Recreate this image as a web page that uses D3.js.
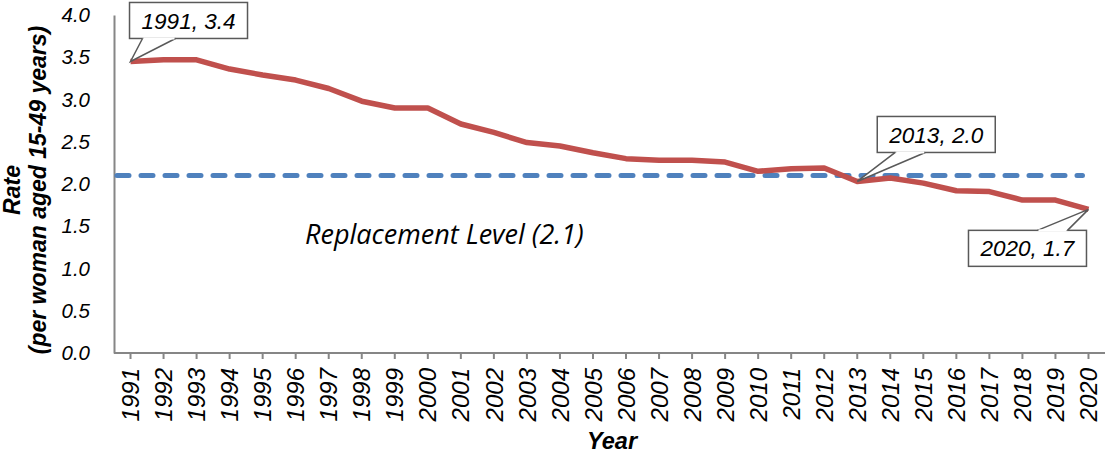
<!DOCTYPE html>
<html>
<head>
<meta charset="utf-8">
<script src="https://cdn.jsdelivr.net/npm/d3@7"></script>
<style>
  body { margin: 0; background: #fff; }
  text { font-family: "Liberation Sans", Arial, sans-serif; }
</style>
</head>
<body>
<script>
// Chart data
var years = ["1991","1992","1993","1994","1995","1996","1997","1998","1999","2000",
  "2001","2002","2003","2004","2005","2006","2007","2008","2009","2010",
  "2011","2012","2013","2014","2015","2016","2017","2018","2019","2020"];
var rates = [3.45, 3.47, 3.47, 3.36, 3.29, 3.23, 3.13, 2.98, 2.90, 2.90,
  2.71, 2.61, 2.49, 2.45, 2.37, 2.30, 2.28, 2.28, 2.26, 2.15,
  2.18, 2.19, 2.03, 2.07, 2.01, 1.92, 1.91, 1.81, 1.81, 1.70];
var replacementLevel = 2.1;
var yTicks = [0, 0.5, 1, 1.5, 2, 2.5, 3, 3.5, 4];
var calloutYears = ["1991", "2013", "2020"];
var calloutLabels = ["1991, 3.4", "2013, 2.0", "2020, 1.7"];

var svgWidth = 1105;
var svgHeight = 456;
var margin = { top: 15, right: 0, bottom: 103, left: 114 };
var chartWidth = svgWidth - margin.left - margin.right;
var chartHeight = svgHeight - margin.top - margin.bottom;

var svg = d3.select("body")
  .append("svg")
  .attr("width", svgWidth)
  .attr("height", svgHeight);

var chartGroup = svg.append("g")
  .attr("transform", `translate(${margin.left}, ${margin.top})`);

var xScale = d3.scaleBand()
  .domain(years)
  .range([0, chartWidth]);

var yScale = d3.scaleLinear()
  .domain([0, 4])
  .range([chartHeight, 0]);

var xc = d => xScale(d) + xScale.bandwidth() / 2;

// y axis
var yAxis = d3.axisLeft(yScale)
  .tickValues(yTicks)
  .tickFormat(d3.format(".1f"))
  .tickSize(0)
  .tickPadding(24);
var yg = chartGroup.append("g").call(yAxis);
yg.select(".domain").attr("stroke", "#868686").attr("stroke-width", 2);
yg.selectAll("text")
  .attr("font-size", 20.5)
  .attr("font-style", "italic")
  .attr("fill", "#000");

// x axis
var xAxis = d3.axisBottom(xScale).tickSize(6).tickSizeOuter(0);
var xg = chartGroup.append("g")
  .attr("transform", `translate(0, ${chartHeight})`)
  .call(xAxis);
xg.select(".domain").attr("stroke", "#868686").attr("stroke-width", 2)
  .attr("d", `M0,0H${chartWidth}`);
xg.selectAll(".tick line").attr("stroke", "#868686").attr("stroke-width", 2);
xg.selectAll("text")
  .attr("font-size", 24)
  .attr("font-style", "italic")
  .attr("fill", "#000")
  .attr("transform", "rotate(-90)")
  .attr("x", -15)
  .attr("y", 0)
  .attr("dy", "0.36em")
  .attr("text-anchor", "end");

// replacement level line
chartGroup.append("line")
  .attr("x1", 3)
  .attr("x2", xc("2020") - 6)
  .attr("y1", yScale(replacementLevel))
  .attr("y2", yScale(replacementLevel))
  .attr("stroke", "#4F81BD")
  .attr("stroke-width", 5)
  .attr("stroke-linecap", "round")
  .attr("stroke-dasharray", "12,12");

chartGroup.append("text")
  .attr("x", 191)
  .attr("y", yScale(replacementLevel) + 68)
  .attr("font-size", 27)
  .attr("font-style", "italic")
  .style("font-family", "'Open Sans', sans-serif")
  .text("Replacement Level (" + replacementLevel.toFixed(1) + ")");

// rate line
var line = d3.line()
  .x((d, i) => xc(years[i]))
  .y(d => yScale(d));

chartGroup.append("path")
  .datum(rates)
  .attr("d", line)
  .attr("fill", "none")
  .attr("stroke", "#C0504D")
  .attr("stroke-width", 5.5)
  .attr("stroke-linejoin", "round");

// callouts: box offset relative to point, pointer base on box edge
var boxW = 118, boxH = 36;
var boxOffsets = [
  { dx: -1, dy: -59, edge: "bottom", b1: 13, b2: 46 },
  { dx: 20, dy: -65, edge: "bottom", b1: 18, b2: 48 },
  { dx: -120, dy: 21, edge: "top", b1: 69, b2: 99 }
];

calloutYears.forEach(function(yr, k) {
  var i = years.indexOf(yr);
  var px = xc(yr), py = yScale(rates[i]);
  var o = boxOffsets[k];
  var bx = px + o.dx, by = py + o.dy;
  var ey = o.edge === "bottom" ? by + boxH : by;
  var g = chartGroup.append("g");
  g.append("rect")
    .attr("x", bx).attr("y", by)
    .attr("width", boxW).attr("height", boxH)
    .attr("fill", "#fff")
    .attr("stroke", "#595959")
    .attr("stroke-width", 1.5);
  g.append("path")
    .attr("d", `M${bx + o.b1},${ey}L${px},${py}L${bx + o.b2},${ey}`)
    .attr("fill", "#fff")
    .attr("stroke", "#595959")
    .attr("stroke-width", 1.5);
  g.append("line")
    .attr("x1", bx + o.b1 + 1).attr("x2", bx + o.b2 - 1)
    .attr("y1", ey).attr("y2", ey)
    .attr("stroke", "#fff").attr("stroke-width", 2);
  g.append("text")
    .attr("x", bx + boxW / 2)
    .attr("y", by + boxH / 2)
    .attr("dy", "0.36em")
    .attr("text-anchor", "middle")
    .attr("font-size", 22.5)
    .attr("font-style", "italic")
    .text(calloutLabels[k]);
});

// axis titles
var yTitle = svg.append("text")
  .attr("transform", `translate(20, 190) rotate(-90)`)
  .attr("text-anchor", "middle")
  .attr("font-size", 23)
  .attr("font-weight", "bold")
  .attr("font-style", "italic");
yTitle.append("tspan").attr("x", 0).attr("dy", 0).text("Rate");
yTitle.append("tspan").attr("x", 0).attr("dy", 26).text("(per woman aged 15-49 years)");

svg.append("text")
  .attr("x", 612)
  .attr("y", 449)
  .attr("text-anchor", "middle")
  .attr("font-size", 23.5)
  .attr("font-weight", "bold")
  .attr("font-style", "italic")
  .text("Year");
</script>
</body>
</html>
